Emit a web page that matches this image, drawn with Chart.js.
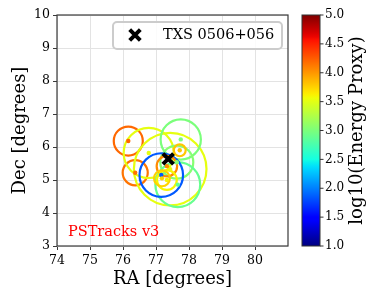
<!DOCTYPE html>
<html><head><meta charset="utf-8">
<script src="https://cdn.jsdelivr.net/npm/chart.js@4.4.0/dist/chart.umd.min.js"></script>
<style>html,body{margin:0;padding:0;background:#fff;} canvas{display:block;}</style>
</head><body>
<canvas id="c" width="374" height="299"></canvas>
<script>
// ---- data ----
const trackRA     = [76.16, 76.37, 76.78, 77.43, 77.75, 77.63, 77.66, 77.16, 77.33, 77.72, 77.33, 77.18];
const trackDec    = [6.18, 5.22, 5.82, 5.33, 6.23, 5.54, 4.86, 5.15, 5.42, 5.90, 5.00, 5.05];
const trackRadius = [0.44, 0.38, 0.76, 1.10, 0.61, 0.50, 0.68, 0.66, 0.31, 0.18, 0.30, 0.24];
const trackEnergy = [4.20, 4.15, 3.52, 3.52, 3.00, 3.05, 2.90, 1.85, 4.05, 3.80, 3.60, 3.75];
const sourceName = 'TXS 0506+056';
const sourceRA = [77.37];
const sourceDec = [5.64];
const xTicks = [74, 75, 76, 77, 78, 79, 80];
const yTicks = [3, 4, 5, 6, 7, 8, 9, 10];
const cbTicks = [1.0, 1.5, 2.0, 2.5, 3.0, 3.5, 4.0, 4.5, 5.0];
const cbMin = 1, cbMax = 5;
const cbLabel = 'log10(Energy Proxy)';
const annotation = 'PSTracks v3';

const FONT = "'DejaVu Serif', 'Liberation Serif', serif";

function interp(pts, t) {
  for (let i = 1; i < pts.length; i++) {
    if (t <= pts[i][0]) {
      const [x0, y0] = pts[i - 1], [x1, y1] = pts[i];
      return y0 + (y1 - y0) * (t - x0) / (x1 - x0);
    }
  }
  return pts[pts.length - 1][1];
}
function jet(v) {
  const t = Math.min(1, Math.max(0, (v - cbMin) / (cbMax - cbMin)));
  const r = interp([[0, 0], [0.35, 0], [0.66, 1], [0.89, 1], [1, 0.5]], t);
  const g = interp([[0, 0], [0.125, 0], [0.375, 1], [0.64, 1], [0.91, 0], [1, 0]], t);
  const b = interp([[0, 0.5], [0.11, 1], [0.34, 1], [0.65, 0], [1, 0]], t);
  return `rgb(${Math.round(r * 255)},${Math.round(g * 255)},${Math.round(b * 255)})`;
}

const circlePts = trackRA.map((x, i) => ({ x, y: trackDec[i], r: trackRadius[i], e: trackEnergy[i] }));
const centerPts = trackRA.map((x, i) => ({ x, y: trackDec[i], e: trackEnergy[i] }));
const sourcePts = sourceRA.map((x, i) => ({ x, y: sourceDec[i] }));

const extras = {
  id: 'extras',
  afterDraw(chart) {
    const ctx = chart.ctx, a = chart.chartArea;
    ctx.save();
    // frame
    ctx.strokeStyle = '#3a3a3a';
    ctx.lineWidth = 1.2;
    ctx.strokeRect(a.left, a.top, a.right - a.left, a.bottom - a.top);
    // annotation
    ctx.fillStyle = '#ff0000';
    ctx.font = `14.5px ${FONT}`;
    ctx.textAlign = 'left';
    ctx.textBaseline = 'alphabetic';
    ctx.fillText(annotation, a.left + 11, a.bottom - 10);
    // legend
    const lx = 113, ly = 22, lw = 169, lh = 27;
    ctx.beginPath();
    ctx.roundRect(lx, ly, lw, lh, 4);
    ctx.fillStyle = 'rgba(255,255,255,0.85)';
    ctx.fill();
    ctx.strokeStyle = '#cccccc';
    ctx.lineWidth = 2;
    ctx.stroke();
    ctx.strokeStyle = '#000';
    ctx.lineWidth = 4;
    const hx = lx + 22, hy = ly + 13, d = 7.5 * Math.SQRT1_2;
    ctx.beginPath();
    ctx.moveTo(hx - d, hy - d); ctx.lineTo(hx + d, hy + d);
    ctx.moveTo(hx - d, hy + d); ctx.lineTo(hx + d, hy - d);
    ctx.stroke();
    ctx.fillStyle = '#000';
    ctx.font = `14.5px ${FONT}`;
    ctx.textBaseline = 'middle';
    ctx.fillText(sourceName, lx + 50, ly + 13.5);
    // colorbar
    const cx = a.right + 14, cw = 18, ct = a.top, cb = a.bottom;
    const grad = ctx.createLinearGradient(0, cb, 0, ct);
    for (let i = 0; i <= 64; i++) grad.addColorStop(i / 64, jet(cbMin + (cbMax - cbMin) * i / 64));
    ctx.fillStyle = grad;
    ctx.fillRect(cx, ct, cw, cb - ct);
    ctx.strokeStyle = '#333';
    ctx.lineWidth = 1;
    ctx.strokeRect(cx, ct, cw, cb - ct);
    ctx.font = `12px ${FONT}`;
    ctx.fillStyle = '#000';
    ctx.textAlign = 'left';
    ctx.textBaseline = 'middle';
    cbTicks.forEach(v => {
      const y = cb - (v - cbMin) / (cbMax - cbMin) * (cb - ct);
      ctx.beginPath();
      ctx.moveTo(cx + cw, y); ctx.lineTo(cx + cw + 3.5, y);
      ctx.stroke();
      ctx.fillText(v.toFixed(1), cx + cw + 5, y);
    });
    ctx.translate(cx + cw + 37, (ct + cb) / 2);
    ctx.rotate(-Math.PI / 2);
    ctx.textAlign = 'center';
    ctx.font = `18px ${FONT}`;
    ctx.fillText(cbLabel, 0, 0);
    ctx.restore();
  }
};

new Chart(document.getElementById('c'), {
  type: 'scatter',
  data: {
    datasets: [
      {
        label: sourceName,
        data: sourcePts,
        pointStyle: 'crossRot',
        pointRadius: 7.5,
        pointBorderWidth: 4,
        pointBorderColor: '#000',
        pointBackgroundColor: '#000'
      },
      {
        label: 'centers',
        data: centerPts,
        pointStyle: 'circle',
        pointRadius: 2.2,
        pointBorderWidth: 0,
        pointBackgroundColor: c => jet(c.raw.e),
        pointBorderColor: c => jet(c.raw.e)
      },
      {
        label: 'errors',
        data: circlePts,
        pointStyle: 'circle',
        pointRadius: c => {
          const s = c.chart.scales.x;
          return Math.abs(s.getPixelForValue(c.raw.x + c.raw.r) - s.getPixelForValue(c.raw.x));
        },
        pointBorderWidth: 2.2,
        pointBackgroundColor: 'rgba(0,0,0,0)',
        pointBorderColor: c => jet(c.raw.e)
      }
    ]
  },
  options: {
    responsive: false,
    animation: false,
    devicePixelRatio: 1,
    events: [],
    layout: { padding: { top: 15, right: 86, left: 0, bottom: 0 } },
    plugins: { legend: { display: false }, tooltip: { enabled: false } },
    scales: {
      x: {
        type: 'linear', min: 74, max: 81,
        afterBuildTicks: s => { s.ticks = xTicks.map(v => ({ value: v })); },
        afterFit: s => { s.height = 53; },
        grid: { color: '#e3e3e3', lineWidth: 1, tickColor: '#3a3a3a', tickLength: 4, drawTicks: true },
        border: { display: false },
        ticks: { color: '#000', font: { family: FONT, size: 12.5 }, padding: 3, maxRotation: 0, callback: v => v },
        title: { display: true, text: 'RA [degrees]', color: '#000', font: { family: FONT, size: 18 }, padding: { top: 0, bottom: 9 } }
      },
      y: {
        type: 'linear', min: 3, max: 10,
        afterBuildTicks: s => { s.ticks = yTicks.map(v => ({ value: v })); },
        afterFit: s => { s.width = 57; },
        grid: { color: '#e3e3e3', lineWidth: 1, tickColor: '#3a3a3a', tickLength: 4, drawTicks: true },
        border: { display: false },
        ticks: { color: '#000', font: { family: FONT, size: 12.5 }, padding: 3, callback: v => v },
        title: { display: true, text: 'Dec [degrees]', color: '#000', font: { family: FONT, size: 18 }, padding: { top: 10, bottom: 0 } }
      }
    }
  },
  plugins: [extras]
});
</script>
</body></html>
